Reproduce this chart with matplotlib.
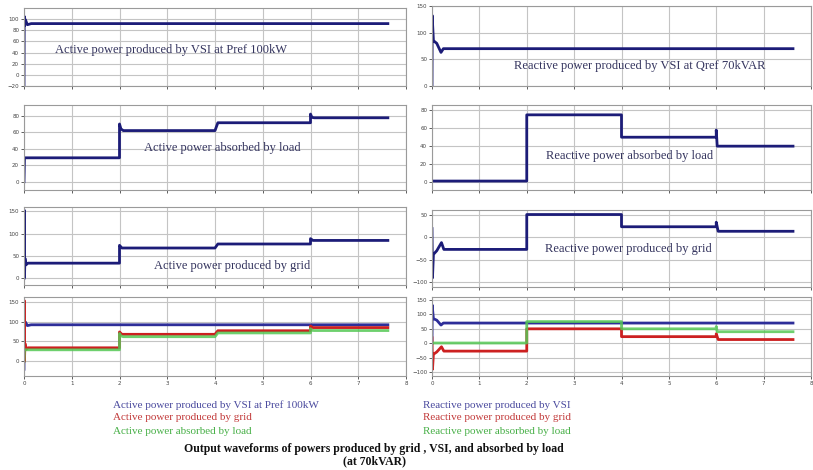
import numpy as np
import matplotlib
matplotlib.use("Agg")
import matplotlib.pyplot as plt

W, H = 813, 470

# time / value samples (s, kW or kVAR)
t_vsi_p = [0, 0.005, 0.01, 0.03, 0.07, 0.15, 7.62]
vsi_p = [-20, 105, 88, 99, 90, 92, 92]

t_vsi_q = [0, 0.005, 0.01, 0.03, 0.1, 0.19, 0.24, 7.62]
vsi_q = [0, 132, 120, 85, 80, 63, 70, 70]

t_load_p = [0, 0.01, 2, 2, 2.03, 2.08, 4, 4.06, 6, 6, 6.03, 6.08, 7.62]
load_p = [0, 29, 29, 70, 64, 62, 62, 71.5, 71.5, 82, 78, 77.5, 77.5]

t_load_q = [0, 2, 2, 4, 4, 6, 6, 6.02, 7.62]
load_q = [1, 1, 75, 75, 50, 50, 58, 40, 40]

t_grid_p = [0, 0.005, 0.01, 0.02, 0.04, 0.08, 2, 2, 2.05, 4, 4.06, 6, 6, 6.05, 7.62]
grid_p = [0, 153, 2, 45, 30, 34, 34, 74, 68, 68, 77, 77, 89, 85, 85]

t_grid_q = [0, 0.01, 0.03, 0.1, 0.2, 0.25, 2, 2, 4, 4, 6, 6, 6.04, 7.62]
grid_q = [19, -90, -38, -30, -12, -27, -27, 50, 50, 23, 23, 33, 13, 13]

x_ticks = [0, 1, 2, 3, 4, 5, 6, 7, 8]

panel_texts = [
    "Active power produced by VSI at Pref 100kW",
    "Reactive power produced by VSI at Qref 70kVAR",
    "Active power absorbed by load",
    "Reactive power absorbed by load",
    "Active power produced by grid",
    "Reactive power produced by grid",
]
legend_left = ["Active power produced by VSI at Pref 100kW",
               "Active power produced by grid",
               "Active power absorbed by load"]
legend_right = ["Reactive power produced by VSI",
                "Reactive power produced by grid",
                "Reactive power absorbed by load"]
title_lines = ["Output waveforms of powers produced by grid , VSI, and absorbed by load",
               "(at 70kVAR)"]

NAVY = "#1c1c78"
BLUE = "#2e2e99"
RED = "#cc2020"
GREEN = "#55c855"
TXT = "#34345e"
SERIF = "Liberation Serif"


def rect(l, t, r, b):
    return [l / W, 1 - b / H, (r - l) / W, (b - t) / H]


def setup(ax, ylim, yticks, show_x=False):
    ax.set_xlim(0, 8)
    ax.set_ylim(*ylim)
    ax.set_xticks(x_ticks)
    ax.set_yticks(yticks)
    ax.grid(True, color="#c4c4c4", lw=0.8)
    ax.set_axisbelow(True)
    ax.tick_params(labelsize=4, length=2, width=0.6, colors="#444444", pad=1.5)
    if not show_x:
        ax.set_xticklabels([])
    for s in ax.spines.values():
        s.set_color("#9a9a9a")
        s.set_linewidth(0.8)


fig = plt.figure(figsize=(W / 100, H / 100), dpi=100)

lx = (24, 406)
rx = (432, 811)

ax = fig.add_axes(rect(lx[0], 8, lx[1], 86))
ax.plot(t_vsi_p, vsi_p, color=NAVY, lw=2)
setup(ax, (-20, 120), [-20, 0, 20, 40, 60, 80, 100])

ax = fig.add_axes(rect(rx[0], 6, rx[1], 86))
ax.plot(t_vsi_q, vsi_q, color=NAVY, lw=2)
setup(ax, (0, 150), [0, 50, 100, 150])

ax = fig.add_axes(rect(lx[0], 105, lx[1], 190))
ax.plot(t_load_p, load_p, color=NAVY, lw=2)
setup(ax, (-10, 93), [0, 20, 40, 60, 80])

ax = fig.add_axes(rect(rx[0], 105, rx[1], 190))
ax.plot(t_load_q, load_q, color=NAVY, lw=2)
setup(ax, (-9, 86), [0, 20, 40, 60, 80])

ax = fig.add_axes(rect(lx[0], 207, lx[1], 285))
ax.plot(t_grid_p, grid_p, color=NAVY, lw=2)
setup(ax, (-15, 160), [0, 50, 100, 150])

ax = fig.add_axes(rect(rx[0], 210, rx[1], 287))
ax.plot(t_grid_q, grid_q, color=NAVY, lw=2)
setup(ax, (-110, 60), [-100, -50, 0, 50])

ax = fig.add_axes(rect(lx[0], 297, lx[1], 376))
ax.plot(t_vsi_p, vsi_p, color=BLUE, lw=2)
ax.plot(t_grid_p, grid_p, color=RED, lw=2)
ax.plot(t_load_p, load_p, color=GREEN, lw=2, alpha=0.85)
setup(ax, (-37, 162), [0, 50, 100, 150], show_x=True)

ax = fig.add_axes(rect(rx[0], 297, rx[1], 376))
ax.plot(t_vsi_q, vsi_q, color=BLUE, lw=2)
ax.plot(t_grid_q, grid_q, color=RED, lw=2)
ax.plot(t_load_q, load_q, color=GREEN, lw=2, alpha=0.85)
setup(ax, (-113, 160), [-100, -50, 0, 50, 100, 150], show_x=True)

# labels written inside the scope panels
text_pos = [(171, 50), (640, 66), (222, 148), (630, 156), (232, 266), (628, 249)]
for txt, (px, py) in zip(panel_texts, text_pos):
    fig.text(px / W, 1 - py / H, txt, ha="center", va="center",
             family=SERIF, fontsize=9, color=TXT)

leg_colors = ["#4a4a9e", "#c23a3a", "#48b048"]
for i, (a, b) in enumerate(zip(legend_left, legend_right)):
    y = 1 - [405, 418, 431][i] / H
    fig.text(113 / W, y, a, ha="left", va="center", family=SERIF,
             fontsize=8, color=leg_colors[i])
    fig.text(423 / W, y, b, ha="left", va="center", family=SERIF,
             fontsize=8, color=leg_colors[i])

fig.text(374 / W, 1 - 449 / H, title_lines[0], ha="center", va="center",
         family=SERIF, fontsize=8.5, fontweight="bold", color="#111111")
fig.text(374 / W, 1 - 461 / H, title_lines[1], ha="center", va="center",
         family=SERIF, fontsize=8.5, fontweight="bold", color="#111111")

fig.savefig("out.png", dpi=100, facecolor="white")
